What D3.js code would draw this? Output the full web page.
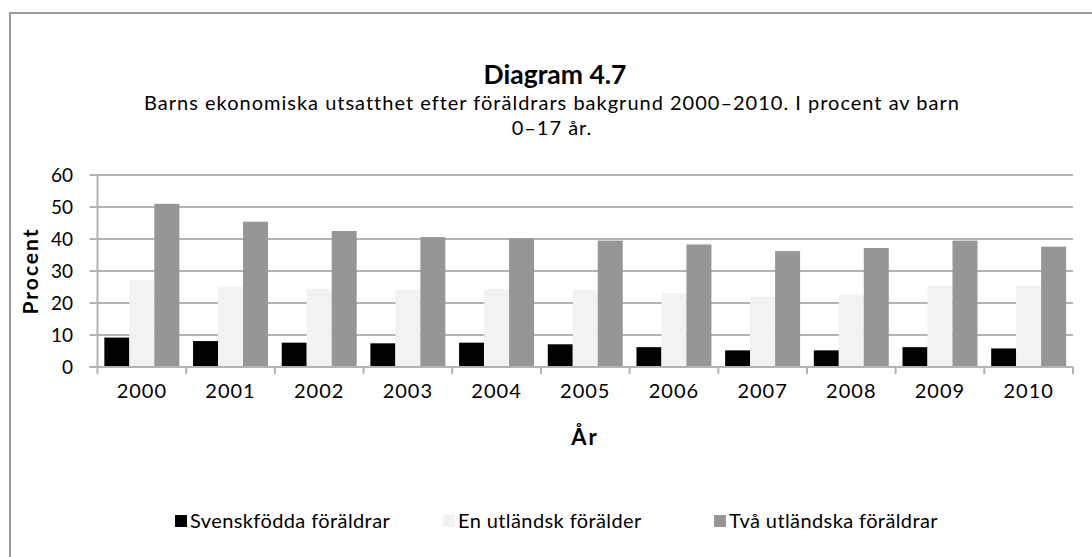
<!DOCTYPE html>
<html><head><meta charset="utf-8">
<script src="https://cdn.jsdelivr.net/npm/d3@7"></script>
<style>html,body{margin:0;padding:0;background:#fff;}svg{display:block;}</style>
</head><body>
<svg id="chart" width="1092" height="557"></svg>
<script>
const years = ["2000","2001","2002","2003","2004","2005","2006","2007","2008","2009","2010"];
const seriesNames = ["Svenskfödda föräldrar","En utländsk förälder","Två utländska föräldrar"];
const svenskfodda = [9.2, 8.1, 7.6, 7.4, 7.6, 7.1, 6.2, 5.2, 5.2, 6.2, 5.8];
const enUtlandsk = [27.2, 25.1, 24.4, 24.1, 24.4, 24.1, 23.1, 21.9, 22.6, 25.3, 25.3];
const tvaUtlandska = [51.0, 45.4, 42.5, 40.6, 40.2, 39.5, 38.3, 36.2, 37.2, 39.5, 37.6];
const yTicks = [0, 10, 20, 30, 40, 50, 60];
const colors = ["#000000", "#f2f2f2", "#969696"];

(function () {
const FONT = "Lato, 'Open Sans', sans-serif";
const svg = d3.select("#chart");
const allSeries = [svenskfodda, enUtlandsk, tvaUtlandska];

// frame
svg.append("path").attr("d", "M10,560 L10,13 L1095,13").attr("fill","none").attr("stroke","#9a9a9a").attr("stroke-width",2);

const pLeft = 97.5, pRight = 1073, pTop = 175, pBottom = 367;
const x0 = d3.scaleBand().domain(years).range([pLeft, pRight]).paddingInner(0).paddingOuter(0);
const x1 = d3.scaleBand().domain(seriesNames).range([0, x0.bandwidth()]).paddingInner(0).paddingOuter(0.2746);
const y = d3.scaleLinear().domain([0, 60]).range([pBottom, pTop]);

// gridlines
svg.append("g").selectAll("line").data(yTicks).join("line")
  .attr("x1", pLeft - 8).attr("x2", pRight)
  .attr("y1", d => y(d)).attr("y2", d => y(d))
  .attr("stroke", "#b3b3b3").attr("stroke-width", 2);

// bars
const groups = svg.append("g").selectAll("g").data(years).join("g")
  .attr("transform", d => `translate(${x0(d)},0)`);
groups.selectAll("rect").data((d, i) => seriesNames.map((s, j) => ({s, v: allSeries[j][i], j})))
  .join("rect")
  .attr("x", d => x1(d.s)).attr("width", x1.bandwidth())
  .attr("y", d => y(d.v)).attr("height", d => y(0) - y(d.v))
  .attr("fill", d => colors[d.j]);

// axes
svg.append("line").attr("x1", pLeft).attr("x2", pLeft).attr("y1", pTop).attr("y2", pBottom)
  .attr("stroke", "#b3b3b3").attr("stroke-width", 2);
svg.append("line").attr("x1", pLeft - 8).attr("x2", pRight).attr("y1", pBottom).attr("y2", pBottom)
  .attr("stroke", "#b3b3b3").attr("stroke-width", 2);
const catTicks = years.map(d => x0(d)).concat([pRight]);
svg.append("g").selectAll("line").data(catTicks).join("line")
  .attr("x1", d => d).attr("x2", d => d).attr("y1", pBottom).attr("y2", pBottom + 7)
  .attr("stroke", "#b3b3b3").attr("stroke-width", 2);

// y tick labels
svg.append("g").selectAll("text").data(yTicks).join("text")
  .attr("x", 73).attr("y", d => y(d)).attr("dy", "0.35em")
  .attr("text-anchor", "end").attr("font-family", FONT).attr("font-size", 19).attr("fill", "#000")
  .text(d => d);

// x tick labels
svg.append("g").selectAll("text").data(years).join("text")
  .attr("x", d => x0(d) + x0.bandwidth() / 2).attr("y", 391).attr("dy", "0.35em")
  .attr("text-anchor", "middle").attr("font-family", FONT).attr("font-size", 20)
  .attr("letter-spacing", 1).attr("fill", "#000")
  .text(d => d);

// axis titles
svg.append("text").attr("transform", "translate(31,271) rotate(-90)").attr("dy", "0.35em")
  .attr("text-anchor", "middle").attr("font-family", FONT).attr("font-weight", "bold").attr("font-size", 21)
  .attr("letter-spacing", 2)
  .text("Procent");
svg.append("text").attr("x", 585).attr("y", 437).attr("dy", "0.35em")
  .attr("text-anchor", "middle").attr("font-family", FONT).attr("font-weight", "bold").attr("font-size", 22)
  .attr("letter-spacing", 2)
  .text("År");

// titles
svg.append("text").attr("x", 555).attr("y", 75).attr("dy", "0.35em")
  .attr("text-anchor", "middle").attr("font-family", FONT).attr("font-weight", "bold").attr("font-size", 26.5)
  .text("Diagram 4.7");
svg.append("text").attr("x", 552).attr("y", 103).attr("dy", "0.35em")
  .attr("text-anchor", "middle").attr("font-family", FONT).attr("font-size", 20).attr("letter-spacing", 1)
  .text("Barns ekonomiska utsatthet efter föräldrars bakgrund 2000–2010. I procent av barn");
svg.append("text").attr("x", 552).attr("y", 128).attr("dy", "0.35em")
  .attr("text-anchor", "middle").attr("font-family", FONT).attr("font-size", 20).attr("letter-spacing", 1)
  .text("0–17 år.");

// legend
const legendX = [175, 443, 714];
const leg = svg.append("g").selectAll("g").data(seriesNames).join("g")
  .attr("transform", (d, i) => `translate(${legendX[i]},521)`);
leg.append("rect").attr("x", 0).attr("y", -6).attr("width", 12).attr("height", 12)
  .attr("fill", (d, i) => colors[i]);
leg.append("text").attr("x", 15).attr("y", 0).attr("dy", "0.35em")
  .attr("font-family", FONT).attr("font-size", 20).attr("letter-spacing", 0.4).text(d => d);
})();
</script>
</body></html>
